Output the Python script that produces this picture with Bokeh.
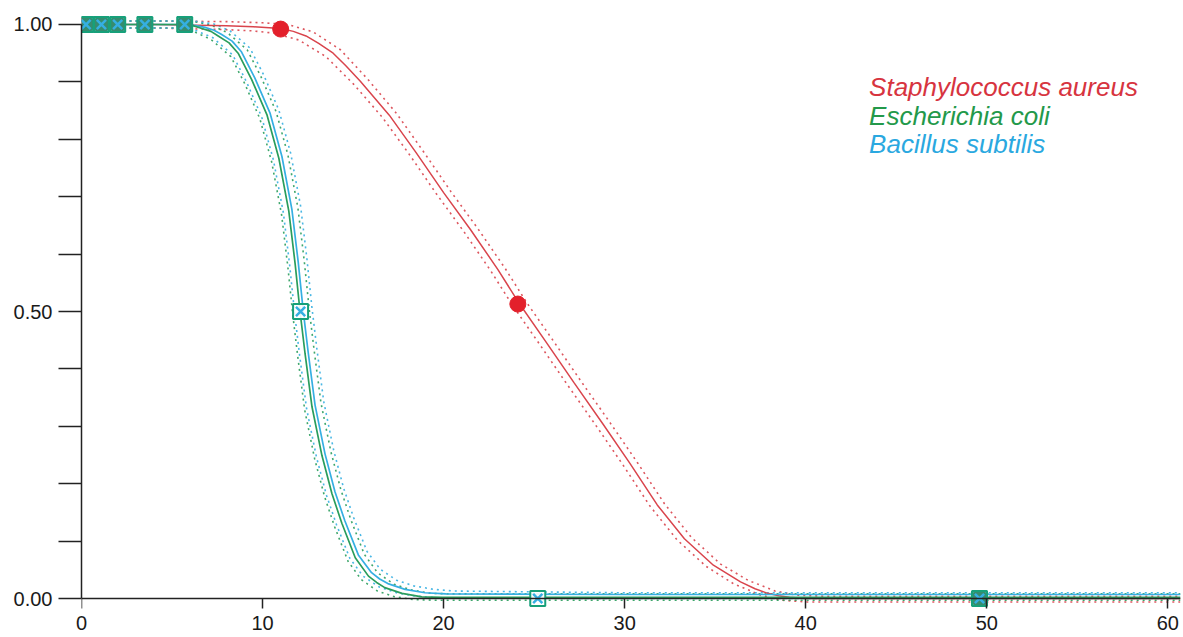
from bokeh.plotting import figure
from bokeh.models import (FixedTicker, NumeralTickFormatter, Label, ColumnDataSource,
                          CDSView, IndexFilter, Range1d, LinearAxis)
from bokeh.embed import file_html
from bokeh.resources import INLINE

# ---------------- data ----------------
x_ticks = [0, 10, 20, 30, 40, 50, 60]
y_ticks = [0.0, 0.5, 1.0]
y_minor_ticks = [0.1, 0.2, 0.3, 0.4, 0.6, 0.7, 0.8, 0.9]

species = ["Staphylococcus aureus", "Escherichia coli", "Bacillus subtilis"]

# observed points
red_obs_x = [0.25, 1.1, 2.0, 3.5, 5.7, 11.0, 24.1, 49.6]
red_obs_y = [1.0, 1.0, 1.0, 1.0, 1.0, 0.992, 0.513, 0.0]
green_obs_x = [0.25, 1.1, 2.0, 3.5, 5.7, 12.1, 25.2, 49.6]
green_obs_y = [1.0, 1.0, 1.0, 1.0, 1.0, 0.5, 0.0, 0.0]
blue_obs_x = [0.25, 1.1, 2.0, 3.5, 5.7, 12.1, 25.2, 49.6]
blue_obs_y = [1.0, 1.0, 1.0, 1.0, 1.0, 0.5, 0.0, 0.0]

# fitted curves
red_fit_x = [0, 4, 8, 9.5, 11.0, 11.7, 12.4, 13.1, 13.9, 14.6, 15.4, 17.0, 18.5, 20.0, 21.5, 23.0,
             24.2, 25.7, 27.2, 28.8, 30.3, 31.8, 33.3, 34.9, 36.4, 37.2, 37.9, 38.5, 39.1, 39.8,
             40.5, 45, 50, 55, 60.7]
red_fit_y = [1.0, 1.0, 0.998, 0.996, 0.993, 0.988, 0.980, 0.967, 0.950, 0.928, 0.901, 0.842, 0.776,
             0.707, 0.642, 0.573, 0.513, 0.445, 0.376, 0.304, 0.235, 0.163, 0.104, 0.058, 0.029,
             0.017, 0.009, 0.005, 0.002, 0.0005, 0.0, 0.0, 0.0, 0.0, 0.0]
red_hi_x = [0, 4, 8, 10.0, 11.4, 12.8, 14.3, 15.8, 17.4, 18.9, 20.4, 21.9, 23.4, 24.6, 26.1, 27.6,
            29.2, 30.7, 32.2, 33.7, 35.3, 36.8, 38.3, 39.5, 41, 45, 50, 55, 60.7]
red_hi_y = [1.006, 1.006, 1.005, 1.003, 1.0, 0.987, 0.956, 0.905, 0.845, 0.778, 0.709, 0.644, 0.575,
            0.515, 0.447, 0.378, 0.306, 0.237, 0.165, 0.106, 0.06, 0.032, 0.013, 0.006, 0.004,
            0.004, 0.004, 0.004, 0.004]
red_lo_x = [0, 4, 8, 9.4, 10.6, 12.0, 13.5, 15.0, 16.6, 18.1, 19.6, 21.1, 22.6, 23.8, 25.3, 26.8,
            28.4, 29.9, 31.4, 32.9, 34.5, 36.0, 37.5, 38.7, 40, 45, 50, 55, 60.7]
red_lo_y = [0.994, 0.994, 0.991, 0.989, 0.985, 0.973, 0.944, 0.897, 0.839, 0.774, 0.705, 0.640, 0.571,
            0.511, 0.443, 0.374, 0.302, 0.233, 0.161, 0.102, 0.056, 0.026, 0.006, -0.003, -0.006,
            -0.006, -0.006, -0.006, -0.006]

green_fit_x = [0, 5.6, 6.15, 6.65, 7.15, 7.55, 8.15, 8.65, 9.4, 10.25, 10.9, 11.45, 11.8, 12.07,
               12.35, 12.73, 13.28, 13.83, 14.38, 15.12, 15.85, 16.3, 16.75, 17.7, 18.8, 19.95,
               30, 40, 50, 60.7]
green_fit_y = [1.0, 1.0, 0.998, 0.993, 0.988, 0.98, 0.968, 0.95, 0.904, 0.842, 0.767, 0.675, 0.583,
               0.50, 0.426, 0.334, 0.249, 0.183, 0.131, 0.071, 0.039, 0.028, 0.019, 0.009, 0.003,
               0.002, 0.002, 0.002, 0.002, 0.002]
green_lo_x = [0, 5.15, 6.25, 7.15, 8.25, 9.0, 9.85, 10.5, 11.05, 11.4, 11.67, 11.95, 12.33, 12.88,
              13.43, 13.98, 14.72, 15.45, 16.35, 17.3, 18.4, 19.55, 30, 40, 50, 60.7]
green_lo_y = [0.994, 0.994, 0.987, 0.974, 0.944, 0.898, 0.836, 0.761, 0.669, 0.577, 0.494, 0.420, 0.328,
              0.243, 0.177, 0.125, 0.065, 0.033, 0.013, 0.003, -0.002, -0.003, -0.003, -0.003, -0.003, -0.003]
green_hi_x = [0, 6.05, 7.15, 8.05, 9.15, 9.9, 10.75, 11.4, 11.95, 12.3, 12.57, 12.85, 13.23, 13.78,
              14.33, 14.88, 15.62, 16.35, 17.25, 18.2, 19.3, 20.45, 30, 40, 50, 60.7]
green_hi_y = [1.006, 1.006, 0.999, 0.986, 0.956, 0.910, 0.848, 0.773, 0.681, 0.589, 0.506, 0.432, 0.340,
              0.255, 0.189, 0.137, 0.077, 0.045, 0.025, 0.015, 0.009, 0.008, 0.008, 0.008, 0.008, 0.008]

blue_fit_x = [0, 5.7, 6.32, 6.82, 7.32, 7.72, 8.32, 8.82, 9.57, 10.42, 11.07, 11.62, 11.97, 12.24,
              12.52, 12.9, 13.45, 14.0, 14.55, 15.29, 16.02, 16.47, 16.92, 17.87, 18.97, 20.12,
              30, 40, 50, 60.7]
blue_fit_y = [1.0, 1.0, 0.998, 0.995, 0.99, 0.983, 0.971, 0.953, 0.907, 0.845, 0.77, 0.678, 0.586,
              0.503, 0.429, 0.337, 0.252, 0.186, 0.135, 0.076, 0.045, 0.034, 0.026, 0.016, 0.01,
              0.008, 0.007, 0.007, 0.007, 0.007]
blue_lo_x = [0, 5.25, 6.35, 7.25, 8.35, 9.1, 9.95, 10.6, 11.15, 11.5, 11.77, 12.05, 12.43, 12.98,
             13.53, 14.08, 14.82, 15.55, 16.45, 17.4, 18.5, 19.65, 30, 40, 50, 60.7]
blue_lo_y = [0.994, 0.994, 0.989, 0.977, 0.947, 0.901, 0.839, 0.764, 0.672, 0.580, 0.497, 0.423, 0.331,
             0.246, 0.180, 0.129, 0.070, 0.039, 0.020, 0.010, 0.004, 0.001, 0.0, 0.0, 0.0, 0.0]
blue_hi_x = [0, 6.2, 7.3, 8.2, 9.3, 10.05, 10.9, 11.55, 12.1, 12.45, 12.72, 13.0, 13.38, 13.93,
             14.48, 15.03, 15.77, 16.5, 17.4, 18.35, 19.45, 20.6, 30, 40, 50, 60.7]
blue_hi_y = [1.006, 1.006, 1.001, 0.989, 0.959, 0.913, 0.851, 0.776, 0.684, 0.592, 0.509, 0.435, 0.343,
             0.258, 0.192, 0.141, 0.082, 0.051, 0.032, 0.022, 0.016, 0.013, 0.010, 0.010, 0.010, 0.010]

# ---------------- styling ----------------
RED = "#d9444c"
RED_PT = "#e3202b"
GREEN = "#2a9d5c"
GREEN_PT = "#17a07a"
BLUE = "#35afe2"
AXIS = "#222222"
FONT = "Liberation Sans"

p = figure(width=1183, height=637, output_backend="svg", toolbar_location=None,
           x_range=Range1d(0, 60.7), y_range=Range1d(-0.0174, 1.0174),
           x_axis_location=None,
           min_border_left=81, min_border_right=3, min_border_top=14, min_border_bottom=29,
           title=None)
p.grid.visible = False
p.outline_line_color = None
p.background_fill_color = "white"

# dotted confidence bands
dot = dict(line_dash="2 4", line_width=1.6, line_alpha=0.9)
p.line(red_hi_x, red_hi_y, line_color=RED, **dot)
p.line(red_lo_x, red_lo_y, line_color=RED, **dot)
p.line(green_hi_x, green_hi_y, line_color=GREEN, **dot)
p.line(green_lo_x, green_lo_y, line_color=GREEN, **dot)
p.line(blue_hi_x, blue_hi_y, line_color=BLUE, **dot)
p.line(blue_lo_x, blue_lo_y, line_color=BLUE, **dot)

# fitted curves
p.line(red_fit_x, red_fit_y, line_color=RED, line_width=1.5)
p.line(blue_fit_x, blue_fit_y, line_color=BLUE, line_width=1.7)
p.line(green_fit_x, green_fit_y, line_color=GREEN, line_width=1.7)

# observed points
p.scatter(red_obs_x, red_obs_y, marker="circle", size=16, fill_color=RED_PT, line_color=RED_PT)

gsrc = ColumnDataSource(dict(x=green_obs_x, y=green_obs_y))
shared = [i for i, gx in enumerate(green_obs_x) if gx in red_obs_x]
alone = [i for i in range(len(green_obs_x)) if i not in shared]
p.scatter("x", "y", source=gsrc, view=CDSView(filter=IndexFilter(shared)), marker="square",
          size=15, fill_color=GREEN_PT, fill_alpha=0.85, line_color=GREEN_PT, line_width=2)
p.scatter("x", "y", source=gsrc, view=CDSView(filter=IndexFilter(alone)), marker="square",
          size=15, fill_color="white", fill_alpha=0.9, line_color=GREEN_PT, line_width=2)
p.scatter(blue_obs_x, blue_obs_y, marker="x", size=13, line_color=BLUE, line_width=2.5)

# axes: x axis line + ticks sit at y = 0; labels from a second axis under the frame
x_rule = LinearAxis(fixed_location=0, ticker=FixedTicker(ticks=x_ticks, minor_ticks=[]),
                    axis_line_color=AXIS, axis_line_width=1.5,
                    major_tick_line_color=AXIS, major_tick_line_width=1.5,
                    major_tick_in=0, major_tick_out=15, minor_tick_in=0, minor_tick_out=0,
                    major_label_text_color=None)
x_labels = LinearAxis(ticker=FixedTicker(ticks=x_ticks, minor_ticks=[]),
                      axis_line_color=None, major_tick_line_color=None, minor_tick_line_color=None,
                      major_tick_in=0, major_tick_out=0, minor_tick_in=0, minor_tick_out=0,
                      major_label_standoff=7, major_label_text_font=FONT,
                      major_label_text_font_size="20px", major_label_text_color="#1a1a1a")
p.add_layout(x_rule, "below")
p.add_layout(x_labels, "below")

p.yaxis.ticker = FixedTicker(ticks=y_ticks, minor_ticks=y_minor_ticks)
p.yaxis.formatter = NumeralTickFormatter(format="0.00")
p.yaxis.bounds = (0, 1)
p.yaxis.axis_line_color = AXIS
p.yaxis.axis_line_width = 1.5
p.yaxis.major_tick_line_color = AXIS
p.yaxis.major_tick_line_width = 1.5
p.yaxis.minor_tick_line_color = AXIS
p.yaxis.minor_tick_line_width = 1.5
p.yaxis.major_tick_in = 0
p.yaxis.minor_tick_in = 0
p.yaxis.major_tick_out = 23
p.yaxis.minor_tick_out = 23
p.yaxis.major_label_standoff = 6
p.yaxis.major_label_text_font = FONT
p.yaxis.major_label_text_font_size = "20px"
p.yaxis.major_label_text_color = "#1a1a1a"

# legend-like labels
legend_colors = ["#d7343f", "#23994a", "#2aa8e0"]
legend_y = [0.891, 0.840, 0.792]
for name, col, ly in zip(species, legend_colors, legend_y):
    p.add_layout(Label(x=43.5, y=ly, text=name, text_color=col, text_font=FONT,
                       text_font_style="italic", text_font_size="26px",
                       text_baseline="alphabetic"))

open("out.html", "w").write(file_html(p, INLINE))
